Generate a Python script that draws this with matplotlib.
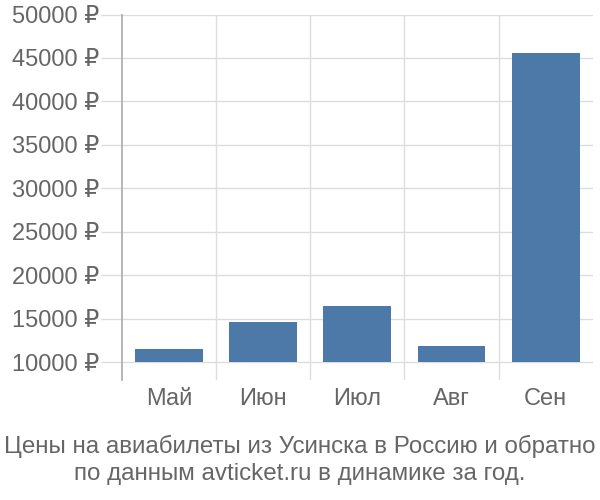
import numpy as np
import matplotlib.pyplot as plt
from matplotlib.ticker import FixedLocator

plt.rcParams['font.family'] = ['Liberation Sans', 'DejaVu Sans']

months = ['Май', 'Июн', 'Июл', 'Авг', 'Сен']
prices = [11460, 14570, 16480, 11840, 45600]
base = 10000
y_ticks = [10000, 15000, 20000, 25000, 30000, 35000, 40000, 45000, 50000]

text_color = '#666666'
grid_color = '#dddddd'

fig = plt.figure(figsize=(6, 5), dpi=100)
ax = fig.add_axes([0.203, 0.24, 0.785, 0.731])

x = np.arange(len(months))
heights = [p - base for p in prices]
ax.bar(x, heights, bottom=base, width=0.72, color='#4d79a8', zorder=3)

ax.set_xlim(-0.5, len(months) - 0.5)
ax.set_ylim(7930, 50000)

ax.set_yticks(y_ticks)
ax.set_yticklabels([f'{v} ₽' for v in y_ticks])
ax.set_xticks(x)
ax.set_xticklabels(months)
ax.xaxis.set_minor_locator(FixedLocator(np.arange(0.5, len(months) - 0.5, 1)))

ax.grid(True, axis='y', which='major', color=grid_color, linewidth=1, zorder=0)
ax.grid(True, axis='x', which='minor', color=grid_color, linewidth=1, zorder=0)

ax.tick_params(axis='y', which='major', length=15, color=grid_color, width=1,
               labelsize=17, labelcolor=text_color, pad=1)
ax.tick_params(axis='x', which='both', length=0, labelsize=17,
               labelcolor=text_color, pad=6)

for side in ['top', 'right', 'bottom']:
    ax.spines[side].set_visible(False)
ax.spines['left'].set_color('#aaaaaa')
ax.spines['left'].set_linewidth(1.2)

fig.text(0.5, 0.08, 'Цены на авиабилеты из Усинска в Россию и обратно\nпо данным avticket.ru в динамике за год.',
         ha='center', va='center', fontsize=17.4, color=text_color, linespacing=1.3)

fig.savefig('out.png', dpi=100)
